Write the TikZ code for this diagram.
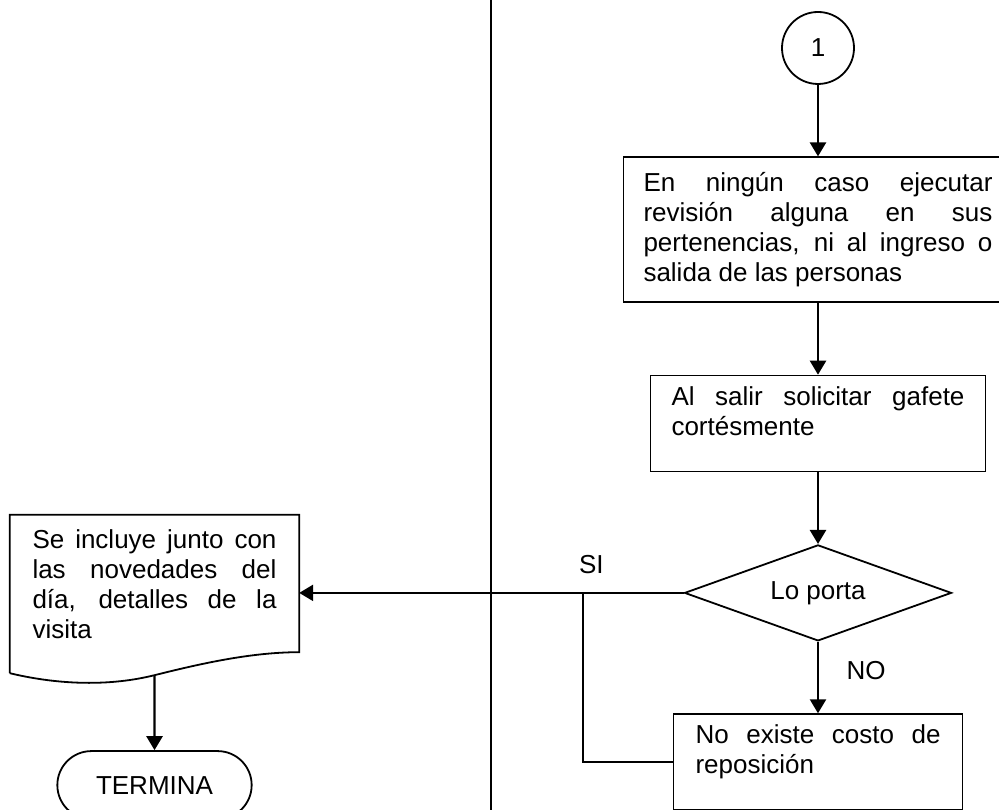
\documentclass[tikz,border=0pt]{standalone}
\usepackage{fontspec}
\setmainfont{Liberation Sans}
\usetikzlibrary{positioning, arrows.meta, shapes.geometric, shapes.misc}
\hyphenpenalty=10000
\exhyphenpenalty=10000
\tolerance=10000
\newcommand{\pie}[1]{\par\hrule height 0pt depth #1 width 0pt}
\tikzset{
  proc/.style={draw, rectangle, line width=1.8pt, align=justify},
  flow/.style={-{Triangle[length=14pt,width=16pt]}, line width=2.4pt},
  node distance=71.5pt, x=1pt, y=1pt,
  every node/.style={font=\fontsize{26}{30}\selectfont}
}

\begin{document}
\begin{tikzpicture}
  \useasboundingbox (0,0) rectangle (999,810);
  % lane divider
  \draw[line width=1.8pt] (491,810) -- (491,0);

  \node[circle, draw, line width=1.8pt, minimum size=72pt, inner sep=0pt] (uno) at (818,762) {1};
  \node[proc, below=of uno, text width=349pt, inner xsep=20pt, minimum height=145pt] (revision)
    {En ningún caso ejecutar revisión alguna en sus pertenencias, ni al ingreso o salida de las personas};
  \node[proc, below=of revision, text width=293pt, inner xsep=21pt, minimum height=96pt] (gafete)
    {Al salir solicitar gafete cortésmente\pie{24pt}};
  \node[diamond, draw, line width=1.8pt, below=of gafete, aspect=2.78, minimum width=267pt, minimum height=96pt, inner sep=0pt] (porta) {Lo porta};
  \node[proc, below=of porta, text width=245pt, inner xsep=22pt, minimum height=96pt] (costo)
    {No existe costo de reposición\pie{20pt}};
  \node[text width=244pt, inner xsep=22.5pt, minimum height=160pt, align=justify] (novedades) at (154.5,215)
    {Se incluye junto con las novedades del día, detalles de la visita\pie{22pt}};
  \node[rounded rectangle, draw, line width=1.8pt, below=75pt of novedades, minimum width=201pt, minimum height=68pt] (termina) {TERMINA};

  % document outline
  \draw[line width=1.8pt] ([yshift=2pt]novedades.south west) -- (novedades.north west) -- (novedades.north east)
    -- ([yshift=23pt]novedades.south east) .. controls +(-49,0) and +(44,11) .. (novedades.south)
    .. controls +(-44,-11) and +(50,-12) .. ([yshift=2pt]novedades.south west);

  \draw[flow] (uno) -- (revision);
  \draw[flow] (revision) -- (gafete);
  \draw[flow] (gafete) -- (porta);
  \draw[flow] (porta) -- node[pos=.4, right=24pt] {NO} (costo);
  \draw[flow] (porta.west) -- node[pos=.24, above=15pt] {SI} (novedades.east |- porta.west);
  \coordinate (rama) at (583,0 |- porta.west);
  \draw[line width=2.4pt] (rama) |- (costo.west);
  \draw[flow] (novedades.south) -- (termina);
\end{tikzpicture}
\end{document}
